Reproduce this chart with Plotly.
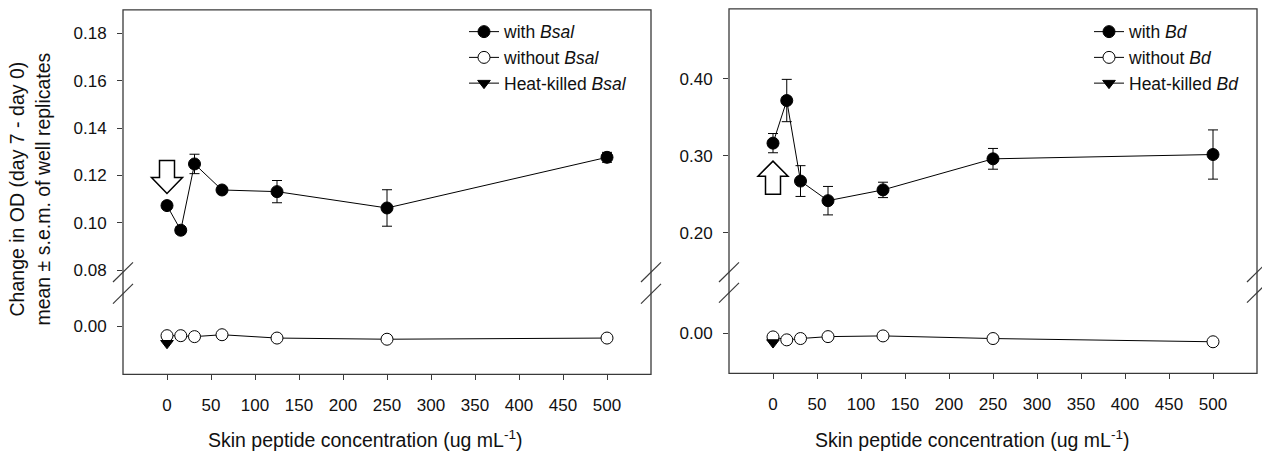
import plotly.graph_objects as go

W, H = 1262, 455

# ---------------- data ----------------
conc = [0, 15.625, 31.25, 62.5, 125, 250, 500]
heat_x = [0]

bsal_with = [0.1073, 0.0969, 0.1249, 0.1139, 0.1132, 0.1063, 0.1277]
bsal_with_err = [0.0010, 0.0015, 0.0041, 0.0010, 0.0047, 0.0077, 0.0021]
bsal_without = [-0.0040, -0.0040, -0.0044, -0.0036, -0.0050, -0.0055, -0.0050]
bsal_heat = [-0.0072]

bd_with = [0.3166, 0.3720, 0.2673, 0.2418, 0.2558, 0.2962, 0.3018]
bd_with_err = [0.0125, 0.0275, 0.0200, 0.0185, 0.0100, 0.0135, 0.0320]
bd_without = [-0.0047, -0.0085, -0.0068, -0.0043, -0.0034, -0.0068, -0.0110]
bd_heat = [-0.0120]

x_ticks = list(range(0, 501, 50))
left_upper_ticks = [0.08, 0.10, 0.12, 0.14, 0.16, 0.18]
right_upper_ticks = [0.20, 0.30, 0.40]
lower_ticks = [0.00]

FONT = "Liberation Sans, Arial, sans-serif"
FRAME = "#3a3a3a"


def px(x):
    return x / W


def py(y):
    return 1 - y / H


fig = go.Figure()


def add_panel(suffix_lo, suffix_hi, with_y, with_err, without_y, heat_y, name, legend):
    xl, yl = "x" + suffix_lo, "y" + suffix_lo
    xh, yh = "x" + suffix_hi, "y" + suffix_hi
    fig.add_trace(go.Scatter(
        x=conc, y=with_y, xaxis=xh, yaxis=yh, mode="lines+markers",
        name=f"with <i>{name}</i>", legend=legend,
        line=dict(color="black", width=1),
        marker=dict(symbol="circle", size=12, color="black", line=dict(color="black", width=1)),
        error_y=dict(type="data", array=with_err, visible=True, color="black", thickness=1, width=5),
    ))
    fig.add_trace(go.Scatter(
        x=conc, y=without_y, xaxis=xl, yaxis=yl, mode="lines+markers",
        name=f"without <i>{name}</i>", legend=legend,
        line=dict(color="black", width=1),
        marker=dict(symbol="circle", size=12, color="white", line=dict(color="black", width=1)),
    ))
    fig.add_trace(go.Scatter(
        x=heat_x, y=heat_y, xaxis=xl, yaxis=yl, mode="lines+markers",
        name=f"Heat-killed <i>{name}</i>", legend=legend,
        line=dict(color="black", width=1),
        marker=dict(symbol="triangle-down", size=11, color="black", line=dict(color="black", width=1)),
    ))


add_panel("", "2", bsal_with, bsal_with_err, bsal_without, bsal_heat, "Bsal", "legend")
add_panel("3", "4", bd_with, bd_with_err, bd_without, bd_heat, "Bd", "legend2")

# panel geometry (pixels)
L = dict(x0=123, x1=651, top=10, brk_hi=277, brk_lo=299, bottom=381)
R = dict(x0=729, x1=1257, top=9, brk_hi=277, brk_lo=298, bottom=380)

tickfont = dict(family=FONT, size=17, color="#111")

xcommon = dict(range=[-50, 550], showgrid=False, zeroline=False, showline=False)
ycommon = dict(showgrid=False, zeroline=False, showline=False, ticks="outside", ticklen=5,
               tickcolor=FRAME, tickwidth=1, tickfont=tickfont, tickformat=".2f",
               ticklabelstandoff=7)

legfont = dict(family=FONT, size=17.5, color="#111")

layout = dict(
    width=W, height=H, margin=dict(l=0, r=0, t=0, b=0),
    paper_bgcolor="white", plot_bgcolor="white",
    font=dict(family=FONT, size=17, color="#111"),
    xaxis=dict(domain=[px(L["x0"]), px(L["x1"])], anchor="y", tickvals=x_ticks, ticks="outside",
               ticklen=5, tickcolor=FRAME, tickfont=tickfont, ticklabelstandoff=10, **xcommon),
    yaxis=dict(domain=[py(L["bottom"]), py(L["brk_lo"])], anchor="x", range=[-0.0203, 0.0137],
               tickvals=lower_ticks, **ycommon),
    xaxis2=dict(domain=[px(L["x0"]), px(L["x1"])], anchor="y2", matches="x", showticklabels=False,
                ticks="", **xcommon),
    yaxis2=dict(domain=[py(L["brk_hi"]), py(L["top"])], anchor="x2", range=[0.0792, 0.19],
                tickvals=left_upper_ticks, **ycommon),
    xaxis3=dict(domain=[px(R["x0"]), px(R["x1"])], anchor="y3", tickvals=x_ticks, ticks="outside",
                ticklen=5, tickcolor=FRAME, tickfont=tickfont, ticklabelstandoff=10, **xcommon),
    yaxis3=dict(domain=[py(R["bottom"]), py(R["brk_lo"])], anchor="x3", range=[-0.052, 0.0527],
                tickvals=lower_ticks, **ycommon),
    xaxis4=dict(domain=[px(R["x0"]), px(R["x1"])], anchor="y4", matches="x3", showticklabels=False,
                ticks="", **xcommon),
    yaxis4=dict(domain=[py(R["brk_hi"]), py(R["top"])], anchor="x4", range=[0.1489, 0.4912],
                tickvals=right_upper_ticks, **ycommon),
    legend=dict(x=px(464), y=py(14), xanchor="left", yanchor="top", bgcolor="rgba(0,0,0,0)",
                font=legfont, tracegroupgap=0, itemwidth=30),
    legend2=dict(x=px(1089), y=py(14), xanchor="left", yanchor="top", bgcolor="rgba(0,0,0,0)",
                 font=legfont, tracegroupgap=0, itemwidth=30),
    showlegend=True,
)
fig.update_layout(**layout)

shapes = []
for P in (L, R):
    # frame
    shapes.append(dict(type="rect", xref="paper", yref="paper",
                       x0=px(P["x0"]), x1=px(P["x1"]), y0=py(P["bottom"]), y1=py(P["top"]),
                       line=dict(color=FRAME, width=1.3), fillcolor="rgba(0,0,0,0)", layer="below"))
    # break marks
    for xc in (P["x0"], P["x1"]):
        for yc in (P["brk_hi"], P["brk_lo"]):
            shapes.append(dict(type="line", xref="paper", yref="paper",
                               x0=px(xc - 10), y0=py(yc + 10), x1=px(xc + 10), y1=py(yc - 10),
                               line=dict(color=FRAME, width=1.2)))

# hollow arrows (annotation marks) anchored to data coordinates
shapes.append(dict(type="path", xref="x2", yref="y2", xsizemode="pixel", ysizemode="pixel",
                   xanchor=0, yanchor=0.1124,
                   path="M0,0 L-15.5,16 L-7.5,16 L-7.5,33 L7.5,33 L7.5,16 L15.5,16 Z",
                   line=dict(color="black", width=1.5), fillcolor="white"))
shapes.append(dict(type="path", xref="x4", yref="y4", xsizemode="pixel", ysizemode="pixel",
                   xanchor=0, yanchor=0.2932,
                   path="M0,0 L-15,-15 L-7.5,-15 L-7.5,-33 L7.5,-33 L7.5,-15 L15,-15 Z",
                   line=dict(color="black", width=1.5), fillcolor="white"))
fig.update_layout(shapes=shapes)

titlefont = dict(family=FONT, size=19.5, color="#111")
annotations = [
    dict(text="Change in OD (day 7 - day 0)<br>mean ± s.e.m. of well replicates",
         xref="paper", yref="paper", x=px(30), y=py(193), textangle=-90, showarrow=False,
         font=titlefont, xanchor="center", yanchor="middle"),
    dict(text="Skin peptide concentration (ug mL<sup>-1</sup>)",
         xref="paper", yref="paper", x=px(366), y=py(447), showarrow=False,
         font=titlefont, xanchor="center", yanchor="middle"),
    dict(text="Skin peptide concentration (ug mL<sup>-1</sup>)",
         xref="paper", yref="paper", x=px(972), y=py(447), showarrow=False,
         font=titlefont, xanchor="center", yanchor="middle"),
]
fig.update_layout(annotations=annotations)

fig.write_html("out.html", post_script="document.body.style.margin='0';",
               config={"displayModeBar": False})
